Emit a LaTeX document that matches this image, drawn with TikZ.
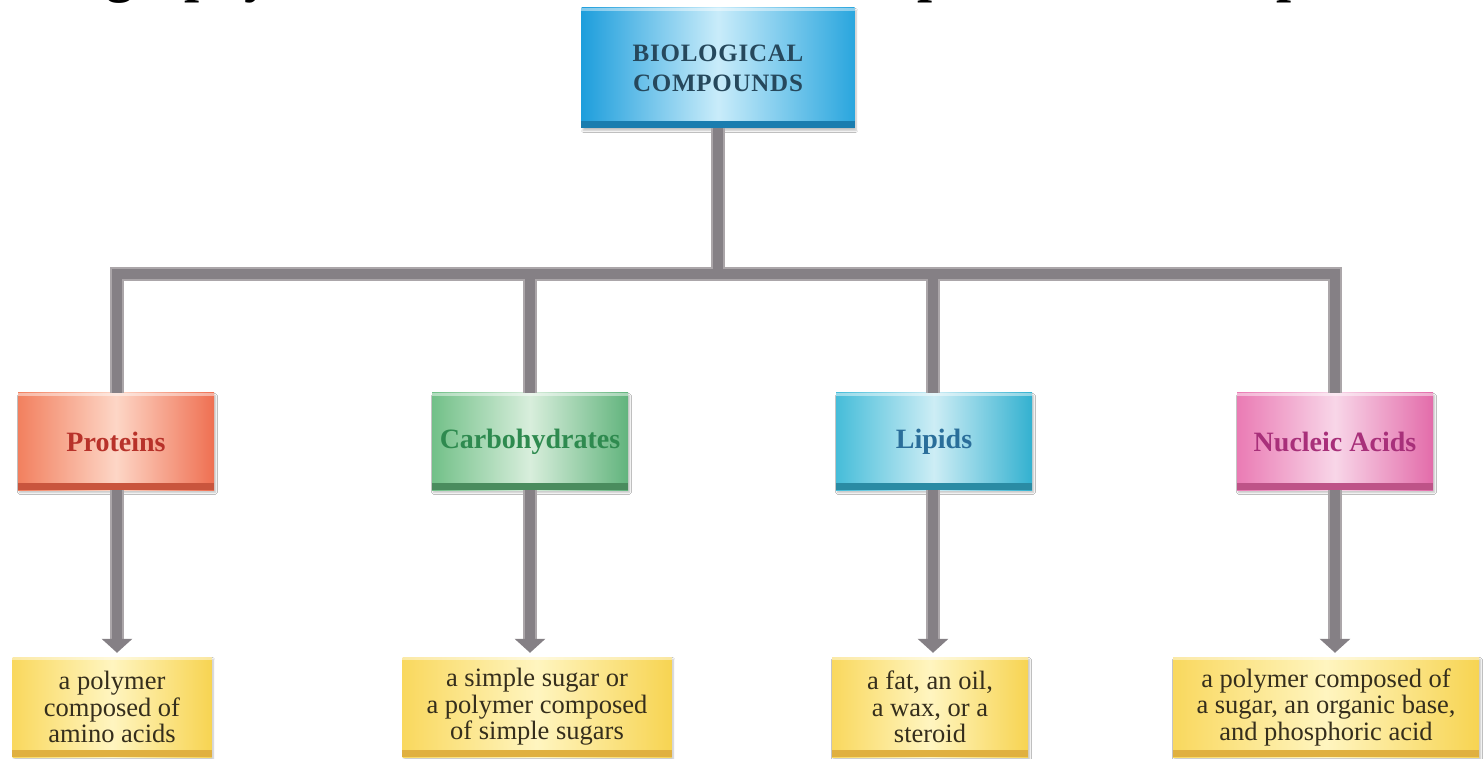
\documentclass[tikz,border=0pt]{standalone}
\usepackage{fontspec}
\setmainfont{Liberation Serif}
\usetikzlibrary{arrows.meta,shadows.blur}
\definecolor{connCore}{HTML}{858085}
\definecolor{connLight}{HTML}{ABA6A9}
\definecolor{topL}{HTML}{1E9EDC}
\definecolor{topM}{HTML}{C9ECFA}
\definecolor{topR}{HTML}{2AA6DE}
\definecolor{topB}{HTML}{1A7DAF}
\definecolor{topT}{HTML}{26485C}
\definecolor{proL}{HTML}{F2805F}
\definecolor{proM}{HTML}{FDD6C6}
\definecolor{proR}{HTML}{EF7052}
\definecolor{proB}{HTML}{C9553D}
\definecolor{proT}{HTML}{B8322A}
\definecolor{carL}{HTML}{72C088}
\definecolor{carM}{HTML}{D8EEDC}
\definecolor{carR}{HTML}{62B47D}
\definecolor{carB}{HTML}{4A8C5E}
\definecolor{carT}{HTML}{2E8A4F}
\definecolor{lipL}{HTML}{46BDD9}
\definecolor{lipM}{HTML}{CDEDF5}
\definecolor{lipR}{HTML}{33B1D0}
\definecolor{lipB}{HTML}{2A8BA4}
\definecolor{lipT}{HTML}{2A6E9A}
\definecolor{nucL}{HTML}{EA7BB4}
\definecolor{nucM}{HTML}{F8D6E8}
\definecolor{nucR}{HTML}{E36CAA}
\definecolor{nucB}{HTML}{BE5388}
\definecolor{nucT}{HTML}{A8307A}
\definecolor{yelL}{HTML}{F9D85E}
\definecolor{yelM}{HTML}{FFF5C0}
\definecolor{yelR}{HTML}{F7D452}
\definecolor{yelB}{HTML}{E0B040}
\definecolor{yelT}{HTML}{352E1C}
\newcommand\mybevel[2]{%
  \fill[#2] (#1.south west) rectangle ([yshift=7pt]#1.south east);
  \fill[white,opacity=.45] (#1.north west) rectangle ([yshift=-3pt]#1.north east);}
\newcommand\myconnectors[1]{%
  \draw[#1] (top.south) -- (top.south |- bar);
  \draw[#1] ([xshift=1pt]prot.north) -- ([xshift=1pt]prot.north |- bar) -- (nuc.north |- bar) -- (nuc.north);
  \draw[#1] (carb.north) -- (carb.north |- bar);
  \draw[#1] ([xshift=-1pt]lip.north) -- ([xshift=-1pt]lip.north |- bar);}
\begin{document}
\begin{tikzpicture}[x=1pt,y=-1pt,
  box/.style={inner sep=0pt, align=center,
    blur shadow={shadow xshift=1.5pt, shadow yshift=-2.5pt, shadow blur steps=6, shadow opacity=25}},
  topbox/.style={box, minimum width=273pt, minimum height=120pt,
    left color=topL, right color=topR, middle color=topM, text=topT,
    font=\fontsize{25}{30}\selectfont\bfseries\addfontfeatures{LetterSpace=3}},
  midbox/.style={box, minimum width=196pt, minimum height=97pt,
    font=\fontsize{28}{28}\selectfont\bfseries},
  leafbox/.style={box, minimum height=100pt,
    left color=yelL, right color=yelR, middle color=yelM, text=yelT,
    font=\fontsize{26.5}{26.5}\selectfont},
  conn/.style={line width=10pt, draw=connCore, line join=miter},
  connhalo/.style={line width=14pt, draw=connLight, line join=miter},
  tip/.style={-{Triangle[width=30pt,length=14pt]}}]
\useasboundingbox (0,0) rectangle (1484,759);
\fill[white] (0,0) rectangle (1484,759);

% clipped heading fragments at the very top
\begin{scope}
  \clip (0,0) rectangle (1484,759);
  \node[anchor=base west, inner sep=0pt, font=\fontsize{54}{54}\selectfont\bfseries] (hA) at (106,-8) {graphy};
  \node[anchor=base west, inner sep=0pt, font=\fontsize{54}{54}\selectfont\bfseries] (hB) at (917,-8) {p};
  \node[anchor=base west, inner sep=0pt, font=\fontsize{54}{54}\selectfont\bfseries] (hC) at (1276,-8) {p};
\end{scope}

\coordinate (bar) at (718,274);

% nodes
\node[topbox] (top) at (718,68) {BIOLOGICAL\\COMPOUNDS};
\node[midbox, left color=proL, right color=proR, middle color=proM, text=proT] (prot) at (116,441.5) {Proteins};
\node[midbox, left color=carL, right color=carR, middle color=carM, text=carT] (carb) at (530,441.5) {Carbohydrates};
\node[midbox, left color=lipL, right color=lipR, middle color=lipM, text=lipT] (lip) at (934,441.5) {Lipids};
\node[midbox, left color=nucL, right color=nucR, middle color=nucM, text=nucT] (nuc) at (1335,441.5) {Nucleic Acids};
\node[leafbox, minimum width=199pt] (d1) at (112,707) {a polymer\\composed of\\amino acids};
\node[leafbox, minimum width=269pt] (d2) at (537,707) {a simple sugar or\\a polymer composed\\of simple sugars};
\node[leafbox, minimum width=196pt] (d3) at (930,707) {a fat, an oil,\\a wax, or a\\steroid};
\node[leafbox, minimum width=306pt] (d4) at (1326,707) {a polymer composed of\\a sugar, an organic base,\\and phosphoric acid};

\mybevel{top}{topB}
\mybevel{prot}{proB}
\mybevel{carb}{carB}
\mybevel{lip}{lipB}
\mybevel{nuc}{nucB}
\mybevel{d1}{yelB}
\mybevel{d2}{yelB}
\mybevel{d3}{yelB}
\mybevel{d4}{yelB}

% connectors: halo pass, then core pass
\myconnectors{connhalo}
\draw[connhalo, shorten >=16pt] ([xshift=1pt]prot.south) -- ([xshift=1pt]prot.south |- d1.north);
\draw[connhalo, shorten >=16pt] (carb.south) -- (carb.south |- d2.north);
\draw[connhalo, shorten >=16pt] ([xshift=-1pt]lip.south) -- ([xshift=-1pt]lip.south |- d3.north);
\draw[connhalo, shorten >=16pt] (nuc.south) -- (nuc.south |- d4.north);
\myconnectors{conn}
\draw[conn, tip, shorten >=4pt] ([xshift=1pt]prot.south) -- ([xshift=1pt]prot.south |- d1.north);
\draw[conn, tip, shorten >=4pt] (carb.south) -- (carb.south |- d2.north);
\draw[conn, tip, shorten >=4pt] ([xshift=-1pt]lip.south) -- ([xshift=-1pt]lip.south |- d3.north);
\draw[conn, tip, shorten >=4pt] (nuc.south) -- (nuc.south |- d4.north);
\end{tikzpicture}
\end{document}
